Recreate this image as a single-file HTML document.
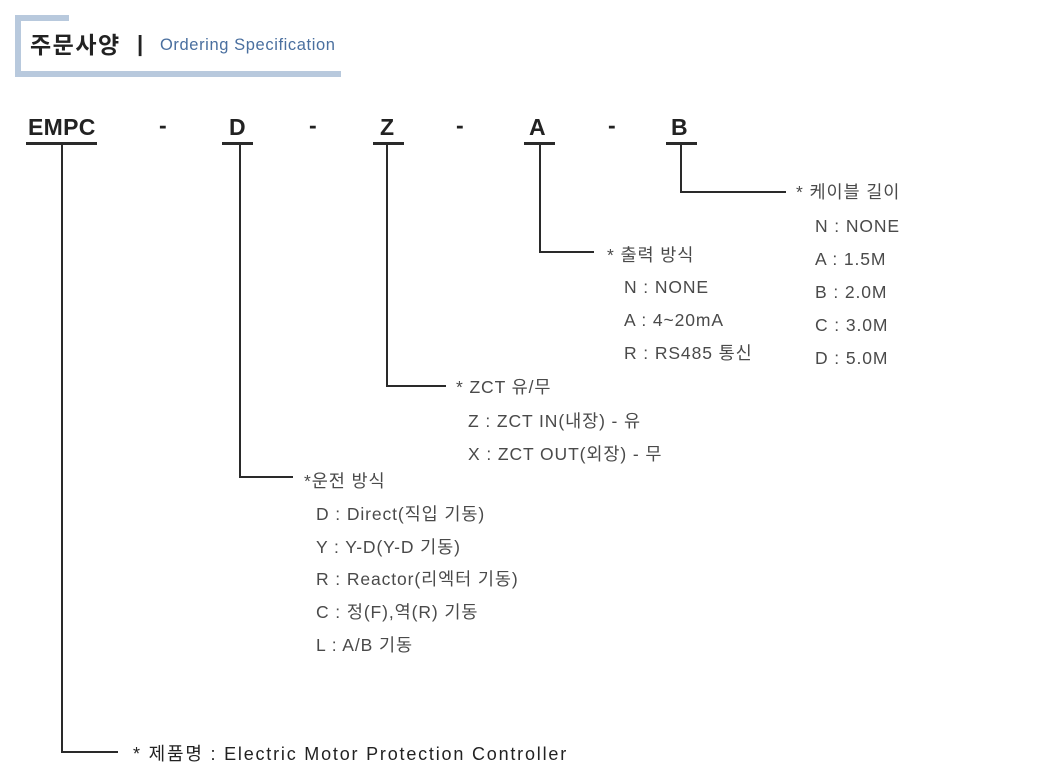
<!DOCTYPE html>
<html><head><meta charset="utf-8"><style>
body{margin:0;width:1056px;height:778px;background:#fff;position:relative;overflow:hidden;font-family:"Liberation Sans","Noto Sans CJK KR",sans-serif;}
.a{position:absolute;white-space:nowrap;}
.b{position:absolute;background:#b8c9dd;}
.l{position:absolute;background:#2a2a2a;}
.c{font-weight:bold;font-size:23px;color:#222;line-height:1;letter-spacing:0.3px}
.t{font-size:17.5px;color:#4a4a4a;line-height:1;letter-spacing:0.9px}
</style></head><body>
<div class="b" style="left:15px;top:15px;width:6px;height:62px"></div>
<div class="b" style="left:15px;top:15px;width:54px;height:6px"></div>
<div class="b" style="left:15px;top:71px;width:326px;height:6px"></div>
<div class="a" style="left:30px;top:34px;font-size:23px;font-weight:bold;color:#222;line-height:1;letter-spacing:1.5px">주문사양</div>
<div class="a" style="left:137px;top:33px;font-size:22px;font-weight:bold;color:#222;line-height:1">|</div>
<div class="a" style="left:160px;top:37px;font-size:16.5px;color:#4a6f9f;line-height:1;letter-spacing:0.6px">Ordering Specification</div>

<div class="a c" style="left:28px;top:116px">EMPC</div>
<div class="a c" style="left:159px;top:114px">-</div>
<div class="a c" style="left:229px;top:116px">D</div>
<div class="a c" style="left:309px;top:114px">-</div>
<div class="a c" style="left:380px;top:116px">Z</div>
<div class="a c" style="left:456px;top:114px">-</div>
<div class="a c" style="left:529px;top:116px">A</div>
<div class="a c" style="left:608px;top:114px">-</div>
<div class="a c" style="left:671px;top:116px">B</div>

<div class="l" style="left:26px;top:142px;width:71px;height:3px"></div>
<div class="l" style="left:222px;top:142px;width:31px;height:3px"></div>
<div class="l" style="left:373px;top:142px;width:31px;height:3px"></div>
<div class="l" style="left:524px;top:142px;width:31px;height:3px"></div>
<div class="l" style="left:666px;top:142px;width:31px;height:3px"></div>

<div class="l" style="left:61px;top:143px;width:2px;height:610px"></div>
<div class="l" style="left:61px;top:751px;width:57px;height:2px"></div>
<div class="l" style="left:239px;top:143px;width:2px;height:335px"></div>
<div class="l" style="left:239px;top:476px;width:54px;height:2px"></div>
<div class="l" style="left:386px;top:143px;width:2px;height:244px"></div>
<div class="l" style="left:386px;top:385px;width:60px;height:2px"></div>
<div class="l" style="left:539px;top:143px;width:2px;height:110px"></div>
<div class="l" style="left:539px;top:251px;width:55px;height:2px"></div>
<div class="l" style="left:680px;top:143px;width:2px;height:50px"></div>
<div class="l" style="left:680px;top:191px;width:106px;height:2px"></div>

<div class="a t" style="left:796px;top:184px">* 케이블 길이</div>
<div class="a t" style="left:815px;top:218px">N : NONE</div>
<div class="a t" style="left:815px;top:251px">A : 1.5M</div>
<div class="a t" style="left:815px;top:284px">B : 2.0M</div>
<div class="a t" style="left:815px;top:317px">C : 3.0M</div>
<div class="a t" style="left:815px;top:350px">D : 5.0M</div>

<div class="a t" style="left:607px;top:247px">* 출력 방식</div>
<div class="a t" style="left:624px;top:279px">N : NONE</div>
<div class="a t" style="left:624px;top:312px">A : 4~20mA</div>
<div class="a t" style="left:624px;top:345px">R : RS485 통신</div>

<div class="a t" style="left:456px;top:379px">* ZCT 유/무</div>
<div class="a t" style="left:468px;top:413px">Z : ZCT IN(내장) - 유</div>
<div class="a t" style="left:468px;top:446px">X : ZCT OUT(외장) - 무</div>

<div class="a t" style="left:304px;top:473px">*운전 방식</div>
<div class="a t" style="left:316px;top:506px">D : Direct(직입 기동)</div>
<div class="a t" style="left:316px;top:539px">Y : Y-D(Y-D 기동)</div>
<div class="a t" style="left:316px;top:571px">R : Reactor(리엑터 기동)</div>
<div class="a t" style="left:316px;top:604px">C : 정(F),역(R) 기동</div>
<div class="a t" style="left:316px;top:637px">L : A/B 기동</div>

<div class="a t" style="left:133px;top:745px;color:#222;font-size:18px;letter-spacing:1.8px">* 제품명 : Electric Motor Protection Controller</div>
</body></html>
